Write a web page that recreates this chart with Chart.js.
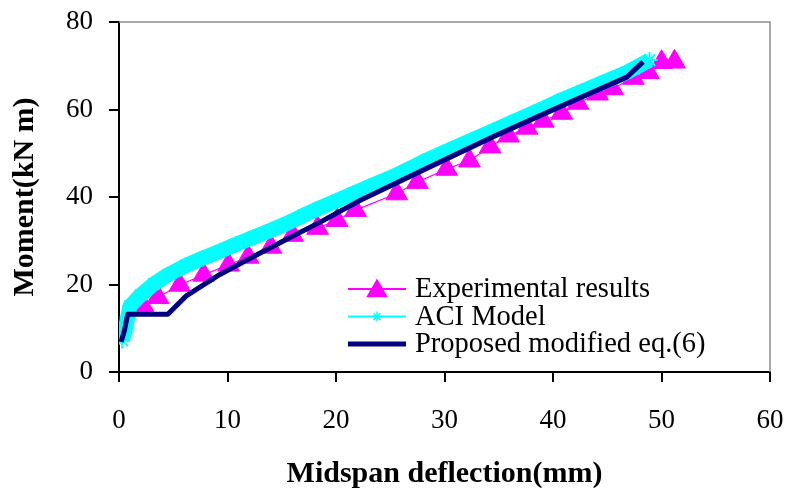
<!DOCTYPE html>
<html>
<head>
<meta charset="utf-8">
<script src="https://cdn.jsdelivr.net/npm/chart.js@4"></script>
<style>
  html, body { margin: 0; padding: 0; background: #fff; }
  #wrap { width: 788px; height: 492px; }
</style>
</head>
<body>
<div id="wrap"><canvas id="momentChart" width="788" height="492"></canvas></div>
<script>
/* data */
const expX  = [2.2, 3.6, 5.6, 7.8, 10.1, 11.9, 14.0, 16.0, 18.3, 20.1, 21.8, 25.6, 27.5, 30.2, 32.3, 34.2, 35.9, 37.6, 39.1, 40.8, 42.3, 44.1, 45.5, 47.4, 48.8, 50.0, 51.2];
const expY  = [15.3, 17.1, 19.9, 22.2, 24.5, 26.3, 28.6, 31.3, 32.9, 34.7, 37.0, 40.8, 43.4, 46.4, 48.3, 51.5, 54.0, 55.8, 57.4, 59.2, 61.5, 63.6, 64.8, 67.2, 68.5, 70.8, 70.9];

const aciX  = [0.3, 0.5, 0.8, 1.0, 2.0, 3.2, 4.5, 6.2, 7.7, 9.3, 10.8, 12.4, 14.0, 15.5, 17.0, 18.5, 20.0, 21.6, 23.1, 25.0, 26.7, 28.4, 30.4, 32.5, 34.5, 36.5, 38.6, 40.6, 42.7, 44.7, 46.8, 48.9];
const aciY  = [7.2, 9.0, 12.5, 15.0, 17.6, 20.1, 22.2, 24.4, 26.0, 27.6, 29.2, 30.8, 32.4, 34.0, 35.8, 37.5, 39.1, 40.8, 42.4, 44.4, 46.4, 48.5, 50.7, 53.0, 55.2, 57.4, 59.7, 62.0, 64.2, 66.3, 68.5, 71.3];

const propX = [0.2, 0.5, 0.8, 4.5, 6.2, 9.3, 12.4, 15.5, 18.5, 22.2, 28.4, 34.5, 40.6, 46.8, 48.3];
const propY = [6.9, 9.5, 13.2, 13.2, 17.4, 22.3, 26.4, 30.4, 34.2, 39.2, 46.6, 53.8, 60.6, 67.4, 70.9];

const seriesNames = ['Experimental results', 'ACI Model', 'Proposed modified eq.(6)'];
const xTitle = 'Midspan deflection(mm)';
const yTitle = 'Moment(kN m)';

const SERIF = "'Liberation Serif', 'Times New Roman', serif";
const pts = (xs, ys) => xs.map((x, i) => ({ x: x, y: ys[i] }));

// gray frame on top and right of the plot area
const framePlugin = {
    id: 'frame',
    afterDraw(chart) {
        const { ctx, chartArea: a } = chart;
        ctx.save();
        ctx.strokeStyle = '#8c8c8c';
        ctx.lineWidth = 1.5;
        ctx.beginPath();
        ctx.moveTo(a.left, a.top);
        ctx.lineTo(a.right, a.top);
        ctx.lineTo(a.right, a.bottom);
        ctx.stroke();
        ctx.restore();
    }
};

// legend drawn inside the plot, like the original
const legendPlugin = {
    id: 'insideLegend',
    afterDraw(chart) {
        const ctx = chart.ctx;
        const rows = [289, 316.5, 344];
        const x0 = 348, x1 = 406, xm = 377, tx = 415;
        ctx.save();
        chart.data.datasets.forEach((ds, i) => {
            const y = rows[i];
            ctx.strokeStyle = ds.borderColor;
            ctx.lineWidth = i === 2 ? 5 : 2;
            ctx.beginPath();
            ctx.moveTo(x0, y); ctx.lineTo(x1, y);
            ctx.stroke();
            if (i === 0) {
                ctx.fillStyle = ds.pointBackgroundColor;
                ctx.beginPath();
                const r = 12.5;
                ctx.moveTo(xm, y + 2 - r);
                ctx.lineTo(xm + r * Math.sin(2 * Math.PI / 3), y + 2 + r / 2);
                ctx.lineTo(xm - r * Math.sin(2 * Math.PI / 3), y + 2 + r / 2);
                ctx.closePath();
                ctx.fill();
            } else if (i === 1) {
                ctx.lineWidth = 1.5;
                ctx.strokeStyle = ds.borderColor;
                Chart.helpers.drawPoint(ctx, { pointStyle: 'star', radius: 5, borderWidth: 1.5 }, xm, y);
            }
            ctx.fillStyle = '#000';
            ctx.font = '28.5px ' + SERIF;
            ctx.textBaseline = 'middle';
            ctx.textAlign = 'left';
            ctx.fillText(seriesNames[i], tx, y + 1);
        });
        ctx.restore();
    }
};

const axisCommon = {
    border: { display: true, color: '#000', width: 2 },
    grid: { display: true, drawOnChartArea: false, drawTicks: true, tickLength: 10, color: '#000', lineWidth: 2 },
};

new Chart(document.getElementById('momentChart').getContext('2d'), {
    type: 'scatter',
    data: {
        datasets: [
            {
                label: seriesNames[0], data: pts(expX, expY), order: 3,
                showLine: true, borderColor: '#ff00ff', borderWidth: 1.2,
                pointStyle: 'triangle', pointRadius: 12.5,
                pointBackgroundColor: '#ff00ff', pointBorderColor: '#ff00ff', pointBorderWidth: 1
            },
            {
                label: seriesNames[1], data: pts(aciX, aciY), order: 2,
                showLine: true, borderColor: '#00ffff', borderWidth: 15,
                borderJoinStyle: 'round', borderCapStyle: 'butt',
                pointStyle: 'star', pointRadius: 8,
                pointBackgroundColor: '#00ffff', pointBorderColor: '#00ffff', pointBorderWidth: 2
            },
            {
                label: seriesNames[2], data: pts(propX, propY), order: 1,
                showLine: true, borderColor: '#000080', borderWidth: 5,
                borderJoinStyle: 'round', pointRadius: 0
            }
        ]
    },
    options: {
        responsive: false, animation: false,
        layout: { padding: { left: 0, top: 22, right: 18, bottom: 0 } },
        plugins: { legend: { display: false }, tooltip: { enabled: false } },
        scales: {
            x: {
                ...axisCommon,
                type: 'linear', min: 0, max: 60,
                ticks: { stepSize: 10, padding: 23, color: '#000', font: { family: SERIF, size: 27 } },
                title: { display: true, text: xTitle, color: '#000', padding: { top: 0, bottom: 0 },
                         font: { family: SERIF, size: 30, weight: 'bold', lineHeight: 1.2 } },
                afterFit: s => { s.height = 120; s.paddingLeft = 0; s.paddingRight = 0; }
            },
            y: {
                ...axisCommon,
                type: 'linear', min: 0, max: 80,
                ticks: { stepSize: 20, padding: 16, color: '#000', font: { family: SERIF, size: 27 } },
                title: { display: true, text: yTitle, color: '#000', padding: { top: 7, bottom: 0 },
                         font: { family: SERIF, size: 30, weight: 'bold', lineHeight: 1.2 } },
                afterFit: s => { s.width = 119; s.paddingTop = 0; s.paddingBottom = 0; }
            }
        }
    },
    plugins: [framePlugin, legendPlugin]
});
</script>
</body>
</html>
